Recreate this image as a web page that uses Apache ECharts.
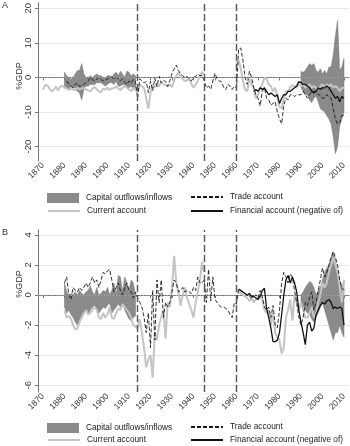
<!DOCTYPE html>
<html>
<head>
<meta charset="utf-8">
<script src="https://cdn.jsdelivr.net/npm/echarts@6/dist/echarts.min.js"></script>
<style>
html, body { margin: 0; padding: 0; background: #fff; }
#cn { width: 350px; height: 446px; }
</style>
</head>
<body>
<div id="cn"></div>
<script>
'use strict';

// x ticks and structural breaks
const xTicks = [1870, 1880, 1890, 1900, 1910, 1920, 1930, 1940, 1950, 1960, 1970, 1980, 1990, 2000, 2010];
const breakYears = [1914, 1945, 1960];
const yTicksA = [-20, -10, 0, 10, 20];
const yTicksB = [-6, -4, -2, 0, 2, 4];

// ---- panel A ----
const caAStart = 1870;
const caA = [
    -3.5, -2.2, -2.3, -3.2, -4.0, -3.6, -2.6, -3.8, -2.6, -2.4,
    -3.0, -3.2, -3.6, -3.2, -3.4, -3.8, -3.0, -3.4, -3.2, -3.0,
    -3.4, -3.8, -4.0, -3.2, -2.8, -3.4, -4.0, -4.2, -3.2, -3.6,
    -3.0, -3.6, -3.2, -3.0, -2.6, -3.2, -3.6, -3.0, -2.4, -3.0,
    -3.4, -4.0, -3.0, -3.6, -4.2, -2.0, -2.6, -3.0, -6.0, -9.0,
    -4.5, -2.2, -2.8, -2.0, -2.6, -1.2, -2.0, -2.2, -2.6, -2.0,
    -2.8, -0.8, 0.5, 1.5, 0.2, -0.5, -1.0, -0.8, -0.4, -1.8,
    -3.0, -2.0, -1.0, 0.5, 1.5, 0.8, null, null, null, null,
    null, null, null, null, null, null, null, null, null, null,
    4.0, 5.0, 2.5, -1.0, -3.5, -4.0, -0.5, -2.0, -3.0, -6.0,
    -5.0, -3.0, -2.0, 0.0, -0.5, -2.0, -2.5, -4.0, -3.0, -5.5,
    -8.5, -9.0, -6.0, -4.0, -4.0, -3.0, -2.2, -2.5, -3.0, -2.0,
    -2.5, -2.0, -3.0, -2.5, -2.0, -3.0, -2.5, -3.0, -3.5, -2.5,
    -2.0, -3.0, -2.0, -2.5, -2.0, -3.0, -2.5, -3.0, -4.0, -3.0, -3.0
];
const taAStart = 1881;
const taA = [
    -1.0, -2.0, -2.6, -3.0, -2.0, -1.6, -2.6, -2.4, -2.0,
    -1.5, -1.0, 0.0, -0.6, -1.0, -0.5, 0.0, -0.6, -1.0, -0.8,
    -0.4, 0.0, 0.2, -0.5, 0.0, -0.4, -1.0, -0.4, -1.4, -2.0,
    -1.0, -1.6, -0.6, -1.0, -6.0, -0.4, -1.0, -1.6, -1.2, -4.4,
    -1.1, -3.8, -0.2, -2.6, 0.3, -1.6, -0.8, -1.2, -2.6, -1.0,
    1.2, 2.5, 3.6, 2.0, 1.0, 0.5, 0.0, 0.3, -0.5, -1.0,
    0.0, 0.3, 1.0, 0.5, 0.6, -1.0, -3.0, -2.5, -3.4, -1.0,
    1.2, -0.5, -1.0, -1.2, -2.8, -3.5, -2.0, -2.5, -3.5, -2.5,
    -3.0, 8.3, 8.5, 5.0, 0.0, -2.0, 1.8, 0.0, -3.0, -5.0,
    -6.0, -8.2, -4.0, -3.0, -6.0, -6.5, -8.0, -7.5, -7.0, -10.0,
    -12.0, -13.4, -8.0, -6.0, -6.5, -5.0, -5.0, -5.5, -5.0, -5.0,
    -5.0, -4.0, -5.0, -6.0, -5.0, -4.0, -4.0, -4.0, -5.0, -5.0,
    -6.0, -6.0, -5.0, -5.5, -6.0, -9.0, -12.0, -13.5, -13.0, -11.0, -11.0
];
const faAStart = 1968;
const faA = [
    -4.0, -3.5,
    -4.0, -3.0, -3.5, -3.0, -4.0, -5.0, -4.5, -5.0, -5.5, -5.0,
    -7.5, -6.0, -5.0, -5.0, -4.0, -4.0, -3.5, -3.0, -2.5, -1.2,
    -1.5, -2.0, -2.0, -2.5, -3.0, -4.0, -4.5, -4.0, -3.0, -3.5,
    -3.0, -3.0, -2.5, -3.0, -4.0, -5.0, -6.0, -5.5, -7.0, -5.5, -6.0
];
const bandAEarlyStart = 1880;
const bandAEarlyHi = [
    1.5, 0.5, 0.0, -0.5, 0.0, 1.0, 2.0, 2.0, 4.0, 1.0,
    0.0, 0.0, 0.5, 0.0, 0.5, 1.0, 0.5, 0.5, 0.0, 0.0,
    0.5, 0.5, 0.0, 1.0, 1.5, 0.5, 1.8, 1.0, 0.0, 1.8,
    1.5, 0.5, 1.0, 0.5
];
const bandAEarlyLo = [
    -2.5, -3.0, -3.5, -2.5, -3.0, -3.0, -4.0, -4.5, -6.5, -3.5,
    -2.5, -2.5, -2.0, -2.0, -2.0, -1.5, -1.5, -1.5, -2.0, -2.5,
    -2.0, -1.5, -1.5, -2.0, -1.0, -2.5, -2.5, -2.0, -2.0, -3.0,
    -3.0, -2.5, -3.5, -3.5
];
const bandALateStart = 1990;
const bandALateHi = [1.7, 1.5, 2.0, 3.0, 4.0, 3.5, 4.0, 2.0, 1.5, 2.5, 1.0, 2.0, 1.0, 3.0, 3.0, 6.5, 12.0, 16.5, 2.0, 3.0, 5.5];
const bandALateLo = [-3.0, -4.0, -5.0, -5.0, -6.5, -7.3, -6.0, -5.4, -7.0, -9.0, -9.5, -10.0, -11.0, -12.0, -13.5, -17.0, -22.0, -20.0, -14.0, -12.0, -10.0];

// ---- panel B ----
const caBStart = 1880;
const caB = [
    -1.0, -1.5, -1.4, -1.6, -2.0, -2.3, -2.2, -1.8, -1.5, -1.2,
    -1.0, -1.3, -1.2, -1.0, -0.8, -1.0, -1.5, -1.6, -1.2, -1.5,
    -1.3, -0.8, -1.5, -1.6, -1.2, -0.9, -1.0, -0.6, -0.8, -1.0,
    -1.2, -1.5, -2.0, -2.1, -2.2, -1.6, -2.5, -3.5, -4.8, -4.3,
    -4.0, -5.5, -2.5, -3.0, -2.0, -1.5, -1.0, -2.9, -0.5, -0.8,
    0.5, 2.6, 0.8, 0.2, -0.7, 0.0, 0.5, -0.2, -0.6, -1.0,
    -1.5, -0.5, 0.2, 1.0, 2.2, 1.5, null, null, null, null,
    null, null, null, null, null, null, null, null, null, null,
    0.3, 0.3, 0.1, 0.0, -0.1, -0.2, -0.4, -0.2, -0.5, -0.3,
    -0.3, 0.0, -0.3, -1.0, -1.2, -1.0, -2.0, -1.2, -2.5, -2.8,
    -3.0, -3.9, -3.5, -1.5, -1.0, -0.3, -1.7, 0.0, -0.5, -1.0,
    -0.5, -1.0, -1.5, -1.5, -1.2, -0.8, -1.5, -1.2, -0.5, 0.0,
    0.8, 0.5, 0.8, 1.5, 2.0, 2.5, 2.0, 1.5, 0.5, -0.5, 1.0
];
const taBStart = 1880;
const taB = [
    0.8, 1.2, 0.0, -0.3, 0.5, 0.3, 0.2, 0.5, 0.3, 0.5,
    0.8, 0.5, 0.8, 1.2, 0.8, 1.0, 0.5, 1.0, 1.5, 1.4,
    1.6, 1.7, 1.0, 0.2, 0.5, 0.8, 0.3, 0.0, 0.5, 0.8,
    0.3, 0.2, -0.2, 0.2, -0.2, -0.5, -0.8, -1.5, -2.5, -1.2,
    -3.5, 0.3, -3.0, 1.0, -0.5, 1.0, -1.5, -0.5, -0.8, -0.5,
    0.2, 1.0, 0.8, 0.2, 0.3, 0.5, 0.2, 0.3, 0.2, 0.1,
    0.5, 0.3, 1.2, 0.8, 0.8, 1.0, -0.5, 1.7, -0.4, 1.2,
    -0.3, -0.5, -0.7, -0.8, -0.8, -0.9, -1.0, -1.3, -1.5, -0.5,
    -0.6, 0.4, 0.3, 0.1, 0.1, 0.0, -0.1, -0.2, -0.1, 0.0,
    -0.2, 0.3, -0.1, -0.8, -1.0, -0.8, -1.5, -0.7, -2.0, -2.2,
    -1.0, 0.8, 1.5, 1.2, 0.8, 1.4, 1.2, 0.3, -0.5, -1.5,
    -2.0, -1.5, -0.5, -0.7, -0.2, 0.2, -1.0, -0.5, 0.3, 1.0,
    1.8, 1.2, 1.5, 2.0, 2.5, 2.9, 2.5, 2.0, 1.0, 0.5, 0.3
];
const faBStart = 1961;
const faB = [
    0.4, 0.3, 0.2, 0.1, 0.0, 0.1, -0.1, -0.1, -0.2,
    -0.3, -0.1, 0.3, 0.45, -0.9, -1.5, -2.2, -3.1, -3.1, -3.0,
    -2.5, -1.3, 0.0, 1.0, 1.3, 0.8, 1.2, 0.8, 0.2, -1.0,
    -1.8, -2.5, -3.3, -2.0, -1.8, -2.4, -2.2, -1.3, -1.0, -0.7,
    -0.5, -0.6, -0.4, -0.3, -0.5, -0.9, -0.8, -0.9, -0.8, -0.9, -2.0
];
const bandBEarlyStart = 1880;
const bandBEarlyHi = [
    0.8, 0.2, 0.0, 0.1, 0.0, 0.2, 0.0, 0.3, 0.1, 0.0,
    0.2, 0.3, 0.6, 0.2, 0.0, 0.5, 0.0, 0.1, 0.3, 0.2,
    0.5, 0.0, 0.3, 0.8, 0.0, 1.3, 1.2, 0.2, 1.2, 0.8,
    0.3, 1.0, 0.8, 0.0
];
const bandBEarlyLo = [
    -0.8, -1.2, -1.0, -1.3, -1.5, -1.8, -2.0, -1.7, -1.5, -1.2,
    -1.0, -1.3, -1.0, -0.8, -0.7, -0.9, -1.2, -1.0, -0.8, -0.9,
    -0.7, -0.5, -1.2, -1.0, -0.8, -0.6, -0.8, -0.5, -1.0, -1.3,
    -1.6, -1.7, -1.5, -1.4
];
const bandBLateStart = 1990;
const bandBLateHi = [0.0, 0.2, 0.5, 0.7, 0.9, 0.8, 0.5, 0.0, 0.3, 0.5, 1.0, 1.5, 1.8, 2.0, 2.5, 2.8, 2.3, 1.5, 1.0, 0.5, 1.0];
const bandBLateLo = [-0.5, -0.8, -1.0, -1.2, -1.3, -1.6, -1.8, -1.5, -1.2, -0.8, -0.5, -1.0, -1.5, -2.0, -2.5, -3.0, -2.5, -2.5, -2.0, -2.5, -2.8];

const XMIN = 1867.67, XMAX = 2012.33;
const NAME_BAND = 'Capital outflows/inflows';
const NAME_TA = 'Trade account';
const NAME_CA = 'Current account';
const NAME_FA = 'Financial account (negative of)';
const FONT = 'Liberation Sans';

const pairs = (start, arr) => arr.map((v, i) => [start + i, v]);

function band(idx, start, lo, hi) {
    const data = lo.map((v, i) => [start + i, v, hi[i]]);
    return {
        name: NAME_BAND,
        type: 'custom',
        xAxisIndex: idx,
        yAxisIndex: idx,
        z: 1,
        itemStyle: { color: '#8a8a8a' },
        data: data,
        renderItem: function(params, api) {
            if (params.dataIndex !== 0) return;
            const top = data.map(d => api.coord([d[0], d[2]]));
            const bot = data.map(d => api.coord([d[0], d[1]])).reverse();
            return {
                type: 'polygon',
                shape: { points: top.concat(bot) },
                style: { fill: '#8a8a8a', stroke: '#747474', lineWidth: 0.5 }
            };
        }
    };
}

function lines(idx, ca, caStart, ta, taStart, fa, faStart) {
    return [{
        name: NAME_CA,
        type: 'line',
        xAxisIndex: idx, yAxisIndex: idx,
        symbol: 'none',
        z: 3,
        lineStyle: { color: '#c4c4c4', width: 2 },
        itemStyle: { color: '#c4c4c4' },
        data: pairs(caStart, ca),
        markLine: {
            silent: true,
            symbol: ['none', 'none'],
            label: { show: false },
            lineStyle: { color: '#aaa', type: [1, 2], width: 1 },
            data: [{ yAxis: 0 }]
        }
    }, {
        name: NAME_TA,
        type: 'line',
        xAxisIndex: idx, yAxisIndex: idx,
        symbol: 'none',
        z: 4,
        lineStyle: { color: '#1a1a1a', width: 0.9, type: [4, 2] },
        itemStyle: { color: '#1a1a1a' },
        data: pairs(taStart, ta),
        markLine: {
            silent: true,
            symbol: ['none', 'none'],
            label: { show: false },
            lineStyle: { color: '#555', type: [7, 3], width: 1.4 },
            data: breakYears.map(y => ({ xAxis: y }))
        }
    }, {
        name: NAME_FA,
        type: 'line',
        xAxisIndex: idx, yAxisIndex: idx,
        symbol: 'none',
        z: 5,
        lineStyle: { color: '#111', width: 1.3 },
        itemStyle: { color: '#111' },
        data: pairs(faStart, fa)
    }];
}

function xAxis(idx) {
    return {
        type: 'value',
        gridIndex: idx,
        min: XMIN,
        max: XMAX,
        axisLine: { lineStyle: { color: '#777' } },
        axisTick: { customValues: xTicks, length: 3, lineStyle: { color: '#777' } },
        axisLabel: {
            customValues: xTicks, rotate: 45, fontSize: 8.5, color: '#333', margin: 3, fontFamily: FONT,
            formatter: v => String(v)
        },
        splitLine: { show: false }
    };
}

function yAxis(idx, min, max, ticks) {
    return {
        type: 'value',
        gridIndex: idx,
        min: min,
        max: max,
        axisLine: { show: true, lineStyle: { color: '#777' } },
        axisTick: { show: true, customValues: ticks, length: 3, lineStyle: { color: '#777' } },
        axisLabel: { customValues: ticks, rotate: 90, fontSize: 9.5, color: '#333', margin: 5, fontFamily: FONT },
        splitLine: { show: true, lineStyle: { color: '#e8e8e8', width: 1 } }
    };
}

function legendItem(name, left, top, isBand) {
    return {
        left: left,
        top: top,
        padding: 0,
        orient: 'horizontal',
        itemWidth: 32,
        itemHeight: 10,
        selectedMode: false,
        itemStyle: isBand ? { color: '#8a8a8a' } : { opacity: 0 },
        textStyle: { fontSize: 8.3, color: '#222', fontFamily: FONT, padding: [0, 0, 0, 2] },
        data: [isBand ? { name: name, icon: 'rect' } : name]
    };
}

const pandaChart = echarts.init(document.getElementById('cn'));

let option = {
    animation: false,
    backgroundColor: '#fff',
    title: [
        { text: 'A', left: 2, top: 1, padding: 0, textStyle: { fontSize: 9, fontWeight: 'normal', color: '#333', fontFamily: FONT } },
        { text: 'B', left: 2, top: 228, padding: 0, textStyle: { fontSize: 9, fontWeight: 'normal', color: '#333', fontFamily: FONT } }
    ],
    grid: [
        { left: 38, top: 0, width: 311, height: 161 },
        { left: 38, top: 230, width: 311, height: 162 }
    ],
    xAxis: [xAxis(0), xAxis(1)],
    yAxis: [yAxis(0, -24.15, 21.6, yTicksA), yAxis(1, -6.45, 4.32, yTicksB)],
    graphic: [
        { type: 'text', x: 20, y: 76, rotation: Math.PI / 2, style: { text: '%GDP', fontSize: 9, fill: '#333', fontFamily: FONT, align: 'center', verticalAlign: 'middle' } },
        { type: 'text', x: 20, y: 284, rotation: Math.PI / 2, style: { text: '%GDP', fontSize: 9, fill: '#333', fontFamily: FONT, align: 'center', verticalAlign: 'middle' } }
    ],
    legend: [
        legendItem(NAME_BAND, 47, 193, true),
        legendItem(NAME_TA, 190, 193, false),
        legendItem(NAME_CA, 47, 207, false),
        legendItem(NAME_FA, 190, 207, false),
        legendItem(NAME_BAND, 47, 423, true),
        legendItem(NAME_TA, 190, 423, false),
        legendItem(NAME_CA, 47, 436, false),
        legendItem(NAME_FA, 190, 436, false)
    ],
    series: [
        band(0, bandAEarlyStart, bandAEarlyLo, bandAEarlyHi),
        band(0, bandALateStart, bandALateLo, bandALateHi),
        ...lines(0, caA, caAStart, taA, taAStart, faA, faAStart),
        band(1, bandBEarlyStart, bandBEarlyLo, bandBEarlyHi),
        band(1, bandBLateStart, bandBLateLo, bandBLateHi),
        ...lines(1, caB, caBStart, taB, taBStart, faB, faBStart)
    ]
};

pandaChart.setOption(option);
</script>
</body>
</html>
